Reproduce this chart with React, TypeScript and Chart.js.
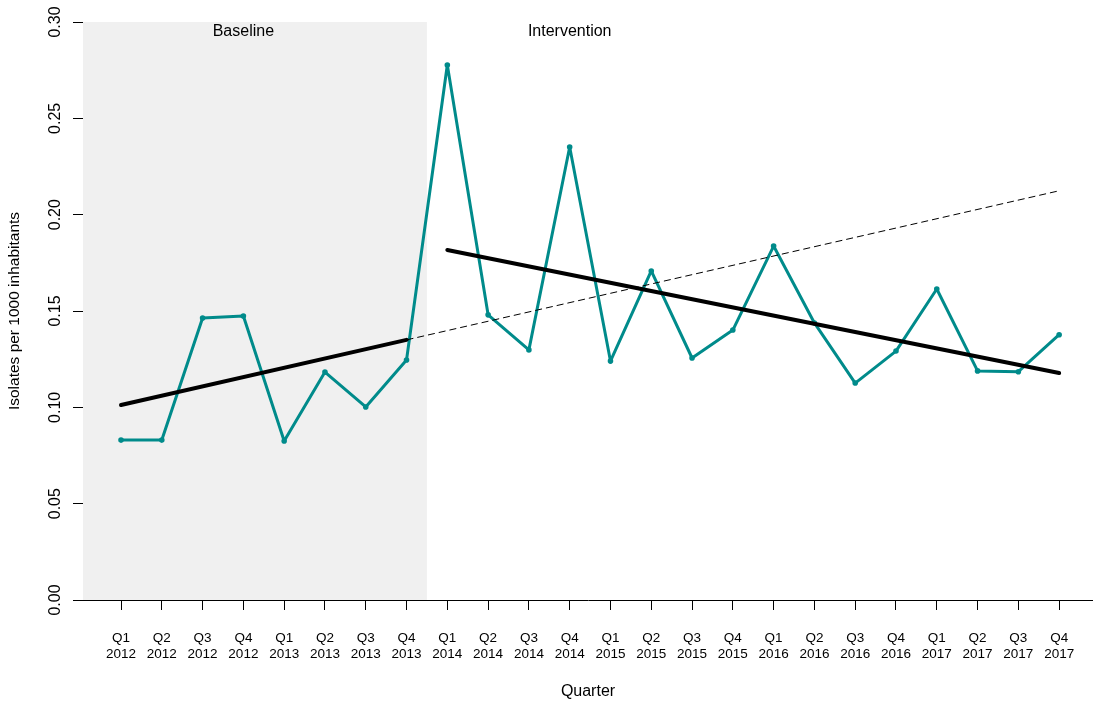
import React, { useEffect, useRef } from 'react';
import { Chart, registerables } from 'chart.js';

Chart.register(...registerables);

const quarters = ['Q1', 'Q2', 'Q3', 'Q4', 'Q1', 'Q2', 'Q3', 'Q4', 'Q1', 'Q2', 'Q3', 'Q4', 'Q1', 'Q2', 'Q3', 'Q4', 'Q1', 'Q2', 'Q3', 'Q4', 'Q1', 'Q2', 'Q3', 'Q4'];
const years = ['2012', '2012', '2012', '2012', '2013', '2013', '2013', '2013', '2014', '2014', '2014', '2014', '2015', '2015', '2015', '2015', '2016', '2016', '2016', '2016', '2017', '2017', '2017', '2017'];
const isolates = [0.083, 0.083, 0.1464, 0.1474, 0.0825, 0.1183, 0.1002, 0.1246, 0.2777, 0.148, 0.1298, 0.2351, 0.124, 0.1708, 0.1256, 0.1401, 0.1837, 0.1438, 0.1126, 0.1292, 0.1614, 0.1189, 0.1185, 0.1377];

const baselineTrendX = [0, 7];
const baselineTrendY = [0.1012, 0.135];
const counterfactualX = [7, 23];
const counterfactualY = [0.135, 0.2124];
const interventionTrendX = [8, 23];
const interventionTrendY = [0.1817, 0.1178];

const yTicks = [0, 0.05, 0.1, 0.15, 0.2, 0.25, 0.3];
const phaseLabels = ['Baseline', 'Intervention'];
const phaseLabelX = [3, 11];
const phaseLabelY = 0.295;
const interventionStart = 7.5;

const FONT = "'Liberation Sans', Arial, Helvetica, sans-serif";
const TEAL = '#008B8B';

const toPoints = (xs: number[], ys: number[]) => xs.map((x, i) => ({ x, y: ys[i] }));

const backgroundPlugin = {
  id: 'phaseBackground',
  beforeDatasetsDraw(chart: any) {
    const { ctx, chartArea, scales } = chart;
    const xEnd = scales.x.getPixelForValue(interventionStart);
    ctx.save();
    ctx.fillStyle = '#F0F0F0';
    ctx.fillRect(chartArea.left, chartArea.top, xEnd - chartArea.left, chartArea.bottom - chartArea.top);
    ctx.fillStyle = '#000000';
    ctx.font = `16px ${FONT}`;
    ctx.textAlign = 'center';
    ctx.textBaseline = 'middle';
    phaseLabels.forEach((t, i) => {
      ctx.fillText(t, scales.x.getPixelForValue(phaseLabelX[i]), scales.y.getPixelForValue(phaseLabelY));
    });
    ctx.restore();
  },
};

export default function App() {
  const ref = useRef<HTMLCanvasElement | null>(null);
  useEffect(() => {
    if (!ref.current) return;
    const chart = new Chart(ref.current, {
      type: 'line',
      data: {
        datasets: [
          {
            data: toPoints(baselineTrendX, baselineTrendY),
            borderColor: '#000000',
            borderWidth: 4,
            borderCapStyle: 'round',
            pointRadius: 0,
            order: 1,
          },
          {
            data: toPoints(interventionTrendX, interventionTrendY),
            borderColor: '#000000',
            borderWidth: 4,
            borderCapStyle: 'round',
            pointRadius: 0,
            order: 1,
          },
          {
            data: toPoints(counterfactualX, counterfactualY),
            borderColor: '#000000',
            borderWidth: 1,
            borderDash: [7, 4],
            pointRadius: 0,
            order: 1,
          },
          {
            data: isolates.map((v, i) => ({ x: i, y: v })),
            borderColor: TEAL,
            backgroundColor: TEAL,
            borderWidth: 3,
            borderJoinStyle: 'round',
            borderCapStyle: 'round',
            pointRadius: 2.8,
            pointBorderWidth: 0,
            pointBackgroundColor: TEAL,
            order: 2,
          },
        ],
      },
      options: {
        animation: false,
        responsive: false,
        devicePixelRatio: 1,
        layout: { autoPadding: false, padding: { top: 22, right: 0, left: 0, bottom: 0 } },
        plugins: { legend: { display: false }, tooltip: { enabled: false } },
        elements: { line: { tension: 0 } },
        scales: {
          x: {
            type: 'linear',
            min: -0.932,
            max: 23.83,
            afterBuildTicks: (scale: any) => {
              scale.ticks = quarters.map((_, i) => ({ value: i }));
            },
            afterFit: (scale: any) => {
              scale.height = 101;
              scale.paddingLeft = 0;
              scale.paddingRight = 0;
            },
            ticks: {
              autoSkip: false,
              maxRotation: 0,
              minRotation: 0,
              padding: 20,
              color: '#000000',
              font: { size: 13.5, family: FONT },
              callback: (v: any) => {
                const i = Math.round(Number(v));
                return [quarters[i], years[i]];
              },
            },
            grid: {
              drawOnChartArea: false,
              drawTicks: true,
              tickLength: 10,
              color: '#000000',
              tickColor: '#000000',
            },
            border: { display: true, color: '#000000', width: 1 },
            title: {
              display: true,
              text: 'Quarter',
              color: '#000000',
              font: { size: 16, family: FONT },
              padding: { top: 0, bottom: 0 },
            },
          },
          y: {
            type: 'linear',
            min: 0,
            max: 0.3,
            afterBuildTicks: (scale: any) => {
              scale.ticks = yTicks.map((v) => ({ value: v }));
            },
            afterFit: (scale: any) => {
              scale.width = 83;
            },
            ticks: {
              minRotation: 90,
              maxRotation: 90,
              crossAlign: 'center',
              padding: 2,
              color: '#000000',
              font: { size: 16, family: FONT },
              callback: (v: any) => Number(v).toFixed(2),
            },
            grid: {
              drawOnChartArea: false,
              drawTicks: true,
              tickLength: 10,
              color: '#000000',
              tickColor: '#000000',
            },
            border: { display: true, color: '#000000', width: 1 },
            title: {
              display: true,
              text: 'Isolates per 1000 inhabitants',
              color: '#000000',
              font: { size: 15.5, family: FONT },
              padding: { top: 5, bottom: 0 },
            },
          },
        },
      },
      plugins: [backgroundPlugin],
    } as any);
    return () => chart.destroy();
  }, []);
  return (
    <div style={{ position: 'absolute', left: 0, top: 0, width: 1093, height: 701, background: '#ffffff' }}>
      <canvas ref={ref} width={1093} height={701} style={{ display: 'block', width: 1093, height: 701 }} />
    </div>
  );
}
